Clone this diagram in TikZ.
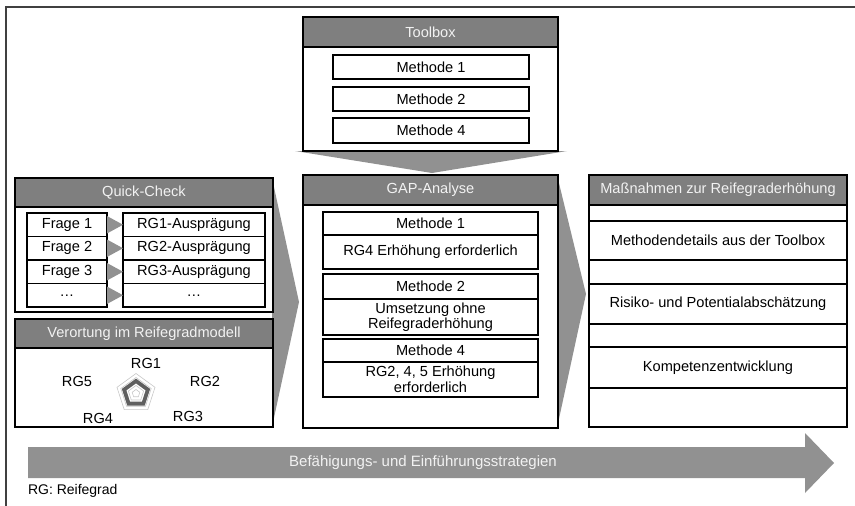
\documentclass[tikz,border=0pt]{standalone}
\usepackage{fontspec}
\setmainfont{Liberation Sans}
\usetikzlibrary{calc}
\definecolor{headfill}{RGB}{127,127,127}
\definecolor{arrowfill}{RGB}{145,145,145}
\definecolor{headtext}{RGB}{242,242,242}
\definecolor{framecol}{RGB}{64,64,64}
\definecolor{gridcol}{RGB}{200,200,200}
\definecolor{datacol}{RGB}{95,95,95}
\begin{document}
\begin{tikzpicture}[x=1pt,y=-1pt,
  every node/.style={font=\fontsize{14.6}{15.5}\selectfont, inner sep=0pt, outer sep=0pt},
  panel/.style={draw=black, line width=1.1pt, fill=white},
  header/.style={draw=black, line width=1.1pt, fill=headfill, text=headtext},
  cell/.style={draw=black, line width=1.1pt, fill=white, align=center},
  chevron/.style={fill=arrowfill, draw=none},
  gridline/.style={draw=gridcol, line width=0.6pt},
  datapoly/.style={draw=datacol, line width=3.8pt, line join=miter},
  frameline/.style={draw=framecol, line width=2pt}
]
\useasboundingbox (0,0) rectangle (855,506);

% outer frame (open at the right and bottom)
\draw[frameline] (6,506) -- (6,7) -- (855,7);

% ---------- big arrows behind the panels ----------
\coordinate (tbL) at (295,151);
\coordinate (tbR) at (567,151);
\coordinate (tbTip) at (432,173);
\fill[chevron] (tbL) -- (tbR) -- (tbTip) -- cycle;

\coordinate (c1top) at (272,178);
\coordinate (c1tip) at (299,302);
\coordinate (c1bot) at (272,427);
\fill[chevron] (c1top) -- (c1tip) -- (c1bot) -- cycle;

\coordinate (c2top) at (557,175);
\coordinate (c2tip) at (586,294);
\coordinate (c2bot) at (557,428);
\fill[chevron] (c2top) -- (c2tip) -- (c2bot) -- cycle;

% ---------- Toolbox ----------
\node[panel, minimum width=255pt, minimum height=134pt] (tb) at (430.5,84) {};
\node[header, minimum width=255pt, minimum height=30pt] (tbh) at (430.5,32) {Toolbox};
\node[cell, minimum width=196pt, minimum height=24pt] (tbm1) at (431,67) {Methode 1};
\node[cell, minimum width=196pt, minimum height=24pt] (tbm2) at (431,99) {Methode 2};
\node[cell, minimum width=196pt, minimum height=25pt] (tbm4) at (431,130.5) {Methode 4};

% ---------- Quick-Check ----------
\node[panel, minimum width=258pt, minimum height=134pt] (qc) at (144,245) {};
\node[header, minimum width=258pt, minimum height=29pt] (qch) at (144,192.5) {Quick-Check};
\foreach \i/\q/\a in {1/Frage 1/RG1-Ausprägung, 2/Frage 2/RG2-Ausprägung, 3/Frage 3/RG3-Ausprägung, 4/…/…}{
  \node[cell, minimum width=80pt, minimum height=23.5pt] (q\i) at (67,201.25+23.5*\i) {\q};
  \node[cell, minimum width=142pt, minimum height=23.5pt] (a\i) at (194,201.25+23.5*\i) {\a};
  \fill[arrowfill] ([yshift=-3pt]q\i.north east) -- (a\i.west) -- ([yshift=3pt]q\i.south east) -- cycle;
}

% ---------- Verortung im Reifegradmodell ----------
\node[panel, minimum width=258pt, minimum height=108pt] (vo) at (144,373) {};
\node[header, minimum width=258pt, minimum height=29pt] (voh) at (144,333.5) {Verortung im Reifegradmodell};

% radar chart
\coordinate (rc) at (136,393.5);
\foreach \r in {4,8,12,16,20}{
  \draw[gridline] ($(rc)+(270:\r)$) -- ($(rc)+(342:\r)$) -- ($(rc)+(54:\r)$) -- ($(rc)+(126:\r)$) -- ($(rc)+(198:\r)$) -- cycle;
}
\draw[datapoly] ($(rc)+(270:12.5)$) -- ($(rc)+(342:12.5)$) -- ($(rc)+(54:12.5)$) -- ($(rc)+(126:12.5)$) -- ($(rc)+(198:12.5)$) -- cycle;
\node (rg1) at (146,363) {RG1};
\node (rg2) at (205,381) {RG2};
\node (rg3) at (188,416.5) {RG3};
\node (rg4) at (98,418) {RG4};
\node (rg5) at (77,381) {RG5};

% ---------- GAP-Analyse ----------
\node[panel, minimum width=255pt, minimum height=253pt] (gap) at (430.5,301.5) {};
\node[header, minimum width=255pt, minimum height=30pt] (gaph) at (430.5,190) {GAP-Analyse};
\node[cell, minimum width=215pt, minimum height=23pt] (g1t) at (430.5,223.5) {Methode 1};
\node[cell, minimum width=215pt, minimum height=34pt] (g1b) at (430.5,252) {RG4 Erhöhung erforderlich};
\node[cell, minimum width=215pt, minimum height=25pt] (g2t) at (430.5,286.5) {Methode 2};
\node[cell, minimum width=215pt, minimum height=36pt] (g2b) at (430.5,317) {Umsetzung ohne\\Reifegraderhöhung};
\node[cell, minimum width=215pt, minimum height=23pt] (g3t) at (430.5,350.5) {Methode 4};
\node[cell, minimum width=215pt, minimum height=35pt] (g3b) at (430.5,379.5) {RG2, 4, 5 Erhöhung\\erforderlich};

% ---------- Maßnahmen zur Reifegraderhöhung ----------
\node[panel, minimum width=258pt, minimum height=252pt] (ma) at (718,301) {};
\node[header, minimum width=258pt, minimum height=30pt] (mah) at (718,190) {Maßnahmen zur Reifegraderhöhung};
\node[cell, minimum width=258pt, minimum height=16pt] (m1) at (718,213) {};
\node[cell, minimum width=258pt, minimum height=39pt] (m2) at (718,240.5) {Methodendetails aus der Toolbox};
\node[cell, minimum width=258pt, minimum height=24pt] (m3) at (718,272) {};
\node[cell, minimum width=258pt, minimum height=40pt] (m4) at (718,304) {Risiko- und Potentialabschätzung};
\node[cell, minimum width=258pt, minimum height=23pt] (m5) at (718,335.5) {};
\node[cell, minimum width=258pt, minimum height=41pt] (m6) at (718,367.5) {Kompetenzentwicklung};
\node[cell, minimum width=258pt, minimum height=39pt] (m7) at (718,407.5) {};

% ---------- strategy arrow ----------
\fill[arrowfill] (28,447) -- (805,447) -- (805,433) -- (834,463) -- (805,493) -- (805,478) -- (28,478) -- cycle;
\node[text=headtext, font=\fontsize{15}{16}\selectfont] (strat) at (423,463) {Befähigungs- und Einführungsstrategien};
\node[anchor=west, font=\fontsize{14}{15}\selectfont] (legend) at (28,491) {RG: Reifegrad};
\end{tikzpicture}
\end{document}
